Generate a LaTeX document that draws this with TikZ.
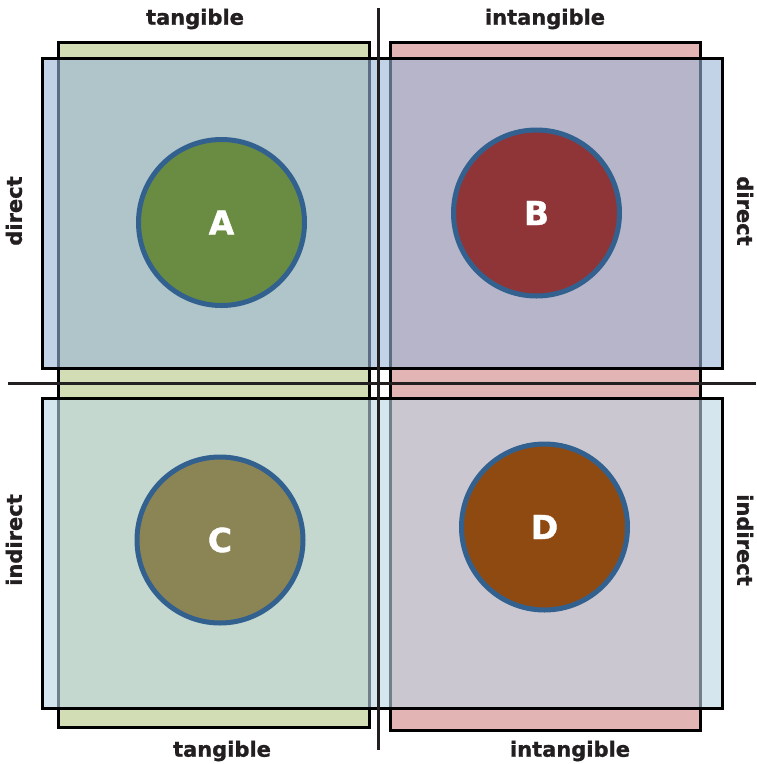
\documentclass[tikz,border=0pt]{standalone}
\usepackage{fontspec}
\setmainfont{DejaVu Sans}[BoldFeatures={FakeBold=1.2}]
\usepackage{tikz}

\definecolor{tangfill}{HTML}{D3DDB5}
\definecolor{intfill}{HTML}{E2B4B4}
\definecolor{dirfill}{HTML}{99B6D9}
\definecolor{indfill}{HTML}{BBD5E3}
\definecolor{ringblue}{HTML}{33618F}
\definecolor{labelink}{HTML}{231F20}
\definecolor{fillA}{HTML}{6A8C42}
\definecolor{fillB}{HTML}{8F3538}
\definecolor{fillC}{HTML}{8B8455}
\definecolor{fillD}{HTML}{8F4A12}

\begin{document}
\begin{tikzpicture}[x=1pt, y=-1pt,
    box/.style = {draw=black, line width=3pt},
    band/.style = {box, fill opacity=0.6},
    axis/.style = {draw=labelink, line width=3pt},
    item/.style = {draw=ringblue, circle, line width=5pt, minimum size=166pt,
                   text=white, font=\bfseries\fontsize{33}{33}\selectfont},
    side/.style = {text=labelink, font=\bfseries\fontsize{21}{21}\selectfont}]
    \useasboundingbox (0,0) rectangle (756,764);

    % columns
    \draw[box, fill=tangfill] (58,42) rectangle (369,727);
    \draw[box, fill=intfill] (390,42) rectangle (700,730);

    % rows
    \draw[band, fill=dirfill] (42,58) rectangle (722,368);
    \draw[band, fill=indfill] (42,398) rectangle (722,708);

    % axes
    \coordinate (top) at (378,8);
    \coordinate (bottom) at (378,750);
    \coordinate (left) at (8,383);
    \coordinate (right) at (756,383);
    \draw[axis] (top) -- (bottom);
    \draw[axis] (left) -- (right);

    % items
    \node[item, fill=fillA] (A) at (221.5,222.5) {A};
    \node[item, fill=fillB] (B) at (536.5,213) {B};
    \node[item, fill=fillC] (C) at (220,540) {C};
    \node[item, fill=fillD] (D) at (544.5,527) {D};

    % labels
    \node[side] (tanTop) at (195,19) {tangible};
    \node[side] (intTop) at (545,19) {intangible};
    \node[side] (tanBot) at (222,751) {tangible};
    \node[side] (intBot) at (570,751) {intangible};
    \node[side, rotate=90] (dirL) at (14,211) {direct};
    \node[side, rotate=90] (indL) at (14,540) {indirect};
    \node[side, rotate=-90] (dirR) at (745,211) {direct};
    \node[side, rotate=-90] (indR) at (745,540) {indirect};
\end{tikzpicture}
\end{document}
